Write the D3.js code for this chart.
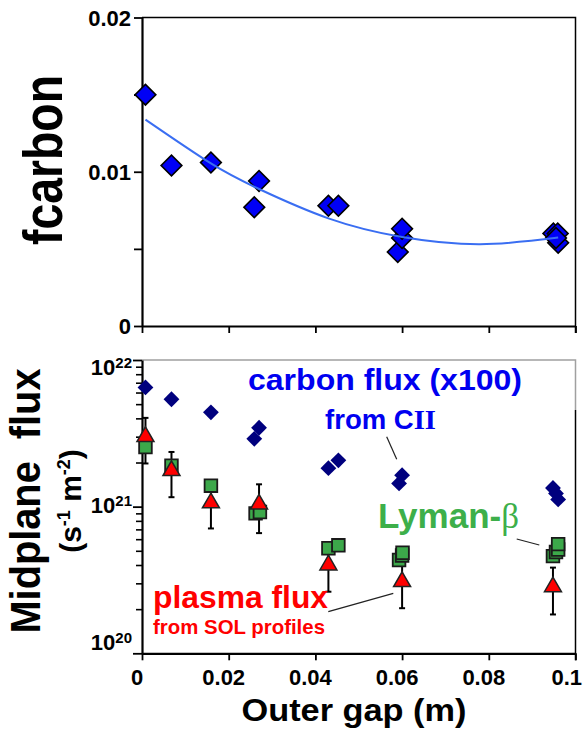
<!DOCTYPE html>
<html><head><meta charset="utf-8">
<script src="https://cdn.jsdelivr.net/npm/d3@7/dist/d3.min.js"></script>
<style>
html,body{margin:0;padding:0;background:#fff;}
svg{display:block;font-family:"Liberation Sans",Arial,Helvetica,sans-serif;font-weight:bold;}
</style></head>
<body>
<svg id="chart" width="583" height="731"></svg>
<script>
// ---------- data ----------
const xTicks = [0, 0.02, 0.04, 0.06, 0.08, 0.1];
const xTickLabels = ["0", "0.02", "0.04", "0.06", "0.08", "0.1"];
const topYTicks = [0, 0.005, 0.01, 0.015, 0.02];
const topYLabelTicks = [0, 0.01, 0.02];
const topYLabels = ["0", "0.01", "0.02"];
const botYMajor = [1e20, 1e21, 1e22];
const botYExp = ["20", "21", "22"];

// fcarbon points (top panel)
const fcX = [0.0008, 0.0068, 0.0159, 0.0259, 0.027, 0.043, 0.0453, 0.059, 0.0600, 0.0600, 0.0949, 0.0959, 0.0960, 0.0955];
const fcY = [0.0150, 0.0104, 0.0106, 0.0077, 0.0094, 0.0078, 0.0078, 0.0048, 0.0057, 0.0063, 0.0060, 0.0060, 0.0054, 0.0057];
// fitted curve
const fitX = [0.0008, 0.0159, 0.027, 0.043, 0.060, 0.078, 0.096];
const fitY = [0.01338, 0.01054, 0.00888, 0.00698, 0.00577, 0.00530, 0.00573];

// carbon flux (x100)
const cfX = [0.0008, 0.0068, 0.0159, 0.0259, 0.027, 0.043, 0.0453, 0.0593, 0.0600, 0.0948, 0.0955, 0.0960];
const cfY = [6.5e21, 5.4e21, 4.4e21, 2.9e21, 3.45e21, 1.83e21, 2.07e21, 1.44e21, 1.64e21, 1.34e21, 1.23e21, 1.12e21];
// Lyman-beta
const lyX = [0.0008, 0.0068, 0.0159, 0.0262, 0.0272, 0.043, 0.0453, 0.0593, 0.0600, 0.0601, 0.0948, 0.0955, 0.0960, 0.0960];
const lyY = [2.55e21, 1.9e21, 1.39e21, 9.0e20, 9.2e20, 5.2e20, 5.45e20, 4.33e20, 4.65e20, 4.85e20, 4.6e20, 4.9e20, 5.1e20, 5.55e20];
// plasma flux
const pfX = [0.0008, 0.0068, 0.0159, 0.027, 0.0430, 0.0600, 0.0948];
const pfY = [3.0e21, 1.76e21, 1.06e21, 1.04e21, 4.0e20, 3.08e20, 2.84e20];
const pfErr = [1.03e21, 0.6e21, 0.35e21, 0.38e21, 1.37e20, 1.05e20, 1.0e20];

// ---------- layout ----------
const svg = d3.select("#chart");
const L = 142, R = 575.5;
const topT = 17.5, topB = 326;
const botT = 360, botB = 653.3;

const x = d3.scaleLinear().domain([0, 0.1]).range([L, R]);
const yTop = d3.scaleLinear().domain([0, 0.02]).range([topB, topT]);
const yBot = d3.scaleLog().domain([1e20, 1e22]).range([botB, botT]);

// ---------- top panel ----------
const gTop = svg.append("g");
gTop.append("path").attr("d", `M${L},${topT}H${R}V${topB + 7}`).attr("fill", "none").attr("stroke", "#000").attr("stroke-width", 1.5);
gTop.append("g").attr("transform", `translate(0,${topB})`)
  .call(d3.axisBottom(x).tickValues(xTicks).tickSize(7).tickSizeOuter(0).tickFormat(""))
  .call(g => g.select(".domain").attr("stroke-width", 2.2))
  .call(g => g.selectAll(".tick line").attr("stroke-width", 1.8));
gTop.append("g").attr("transform", `translate(${L},0)`)
  .call(d3.axisLeft(yTop).tickValues(topYTicks).tickSize(8).tickSizeOuter(0).tickFormat(""))
  .call(g => g.select(".domain").attr("stroke-width", 2.2))
  .call(g => g.selectAll(".tick line").attr("stroke-width", 1.8));
gTop.selectAll("text.ylab").data(topYLabelTicks).join("text")
  .attr("x", 131).attr("y", d => yTop(d) + 8)
  .attr("text-anchor", "end").attr("font-size", 22)
  .text((d, i) => topYLabels[i]);

const diamondBig = d3.symbol().type(d3.symbolSquare).size(215)();
gTop.selectAll("path.fc").data(fcX).join("path")
  .attr("d", diamondBig)
  .attr("transform", (d, i) => `translate(${x(d)},${yTop(fcY[i])}) rotate(45)`)
  .attr("fill", "#0000f5").attr("stroke", "#000").attr("stroke-width", 1.6);
const fitLine = d3.line().x(d => x(d[0])).y(d => yTop(d[1])).curve(d3.curveNatural);
gTop.append("path").datum(fitX.map((d, i) => [d, fitY[i]]))
  .attr("d", fitLine).attr("fill", "none").attr("stroke", "#3a6ef2").attr("stroke-width", 2);

gTop.append("text").attr("transform", `translate(62,160) rotate(-90)`)
  .attr("text-anchor", "middle").attr("font-size", 56)
  .attr("textLength", 170).attr("lengthAdjust", "spacingAndGlyphs")
  .text("fcarbon");

// ---------- bottom panel ----------
const gBot = svg.append("g");
gBot.append("path").attr("d", `M${L},${botT}H${R}V410`).attr("fill", "none").attr("stroke", "#a0a0a0").attr("stroke-width", 1.5);
gBot.append("path").attr("d", `M${R},410V${botB + 7}`).attr("fill", "none").attr("stroke", "#000").attr("stroke-width", 1.5);

gBot.append("g").attr("transform", `translate(0,${botB})`)
  .call(d3.axisBottom(x).tickValues(xTicks).tickSize(7).tickSizeOuter(0).tickFormat(""))
  .call(g => g.select(".domain").attr("stroke-width", 2.2))
  .call(g => g.selectAll(".tick line").attr("stroke-width", 1.8));
gBot.selectAll("text.xlab").data(xTicks).join("text")
  .attr("x", (d, i) => i === xTicks.length - 1 ? 582 : x(d) - 5)
  .attr("y", 685)
  .attr("text-anchor", (d, i) => i === xTicks.length - 1 ? "end" : "middle")
  .attr("font-size", 22)
  .text((d, i) => xTickLabels[i]);

const minorTicks = yBot.ticks().filter(v => botYMajor.indexOf(v) < 0);
gBot.append("g").attr("transform", `translate(${L},0)`)
  .call(d3.axisLeft(yBot).tickValues(minorTicks).tickSize(6).tickSizeOuter(0).tickFormat(""))
  .call(g => g.select(".domain").attr("stroke-width", 2.2))
  .call(g => g.selectAll(".tick line").attr("stroke-width", 1.6));
gBot.append("g").attr("transform", `translate(${L},0)`)
  .call(d3.axisLeft(yBot).tickValues(botYMajor).tickSize(9).tickSizeOuter(0).tickFormat(""))
  .call(g => g.select(".domain").remove())
  .call(g => g.selectAll(".tick line").attr("stroke-width", 1.8));
const labOff = [-3, 6, 15];
const ylab = gBot.selectAll("text.ylabB").data(botYMajor).join("text")
  .attr("x", 132).attr("y", (d, i) => yBot(d) + labOff[i])
  .attr("text-anchor", "end").attr("font-size", 22);
ylab.append("tspan").text("10");
ylab.append("tspan").attr("dy", -7).attr("font-size", 15).text((d, i) => botYExp[i]);

const eb = gBot.append("g").attr("stroke", "#000").attr("stroke-width", 2);
pfX.forEach((xv, i) => {
  const lo = yBot(pfY[i] - pfErr[i]), hi = yBot(pfY[i] + pfErr[i]), cx = x(xv);
  eb.append("line").attr("x1", cx).attr("x2", cx).attr("y1", lo).attr("y2", hi);
  eb.append("line").attr("x1", cx - 3).attr("x2", cx + 3).attr("y1", lo).attr("y2", lo);
  eb.append("line").attr("x1", cx - 3).attr("x2", cx + 3).attr("y1", hi).attr("y2", hi);
});

const diamondSmall = d3.symbol().type(d3.symbolSquare).size(125)();
gBot.selectAll("path.cf").data(cfX).join("path")
  .attr("d", diamondSmall)
  .attr("transform", (d, i) => `translate(${x(d)},${yBot(cfY[i])}) rotate(45)`)
  .attr("fill", "#00007e");
const sq = d3.symbol().type(d3.symbolSquare).size(160)();
gBot.selectAll("path.ly").data(lyX).join("path")
  .attr("d", sq)
  .attr("transform", (d, i) => `translate(${x(d)},${yBot(lyY[i])})`)
  .attr("fill", "#3ca84a").attr("stroke", "#1a1a1a").attr("stroke-width", 1.8);
const tri = d3.symbol().type(d3.symbolTriangle).size(125)();
gBot.selectAll("path.pf").data(pfX).join("path")
  .attr("d", tri)
  .attr("transform", (d, i) => `translate(${x(d)},${yBot(pfY[i])})`)
  .attr("fill", "#ff0000").attr("stroke", "#222").attr("stroke-width", 1.5);

gBot.append("text").attr("x", 248).attr("y", 390).attr("font-size", 29)
  .attr("fill", "#0000f0").attr("textLength", 274).attr("lengthAdjust", "spacingAndGlyphs")
  .text("carbon flux (x100)");
const cii = gBot.append("text").attr("x", 325).attr("y", 429).attr("font-size", 27).attr("fill", "#0000f0")
  .attr("textLength", 111).attr("lengthAdjust", "spacingAndGlyphs");
cii.append("tspan").text("from C");
cii.append("tspan").attr("font-family", "Liberation Serif, Times New Roman, serif").attr("font-size", 28).text("II");
gBot.append("line").attr("x1", 386.7).attr("y1", 436.7).attr("x2", 396.7).attr("y2", 459.3).attr("stroke", "#222").attr("stroke-width", 1.2);

const ly = gBot.append("text").attr("x", 378).attr("y", 528).attr("font-size", 35).attr("fill", "#3daf4a");
ly.append("tspan").text("Lyman-");
ly.append("tspan").attr("font-family", "Liberation Serif, Times New Roman, serif").attr("font-weight", "normal").text("β");
gBot.append("line").attr("x1", 516.7).attr("y1", 539).attr("x2", 539.3).attr("y2", 545).attr("stroke", "#222").attr("stroke-width", 1.2);

gBot.append("text").attr("x", 153).attr("y", 608).attr("font-size", 32).attr("fill", "#ff0000")
  .attr("textLength", 175).attr("lengthAdjust", "spacingAndGlyphs").text("plasma flux");
gBot.append("text").attr("x", 153).attr("y", 634).attr("font-size", 20.5).attr("fill", "#ff0000")
  .attr("textLength", 172).attr("lengthAdjust", "spacingAndGlyphs").text("from SOL profiles");
gBot.append("line").attr("x1", 328.3).attr("y1", 611.7).attr("x2", 393.3).attr("y2", 593.3).attr("stroke", "#222").attr("stroke-width", 1.2);

gBot.append("text").attr("transform", `translate(40,501) rotate(-90)`)
  .attr("text-anchor", "middle").attr("font-size", 42)
  .attr("textLength", 265).attr("lengthAdjust", "spacingAndGlyphs")
  .text("Midplane\u00a0 flux");
const sub = gBot.append("text").attr("transform", `translate(81,501) rotate(-90)`)
  .attr("text-anchor", "middle").attr("font-size", 30);
sub.append("tspan").text("(s");
sub.append("tspan").attr("dy", -11).attr("font-size", 18).text("-1");
sub.append("tspan").attr("dy", 11).text(" m");
sub.append("tspan").attr("dy", -11).attr("font-size", 18).text("-2");
sub.append("tspan").attr("dy", 11).text(")");

svg.append("text").attr("x", 354).attr("y", 721).attr("text-anchor", "middle")
  .attr("font-size", 31).attr("textLength", 225).attr("lengthAdjust", "spacingAndGlyphs")
  .text("Outer gap (m)");
</script>
</body></html>
